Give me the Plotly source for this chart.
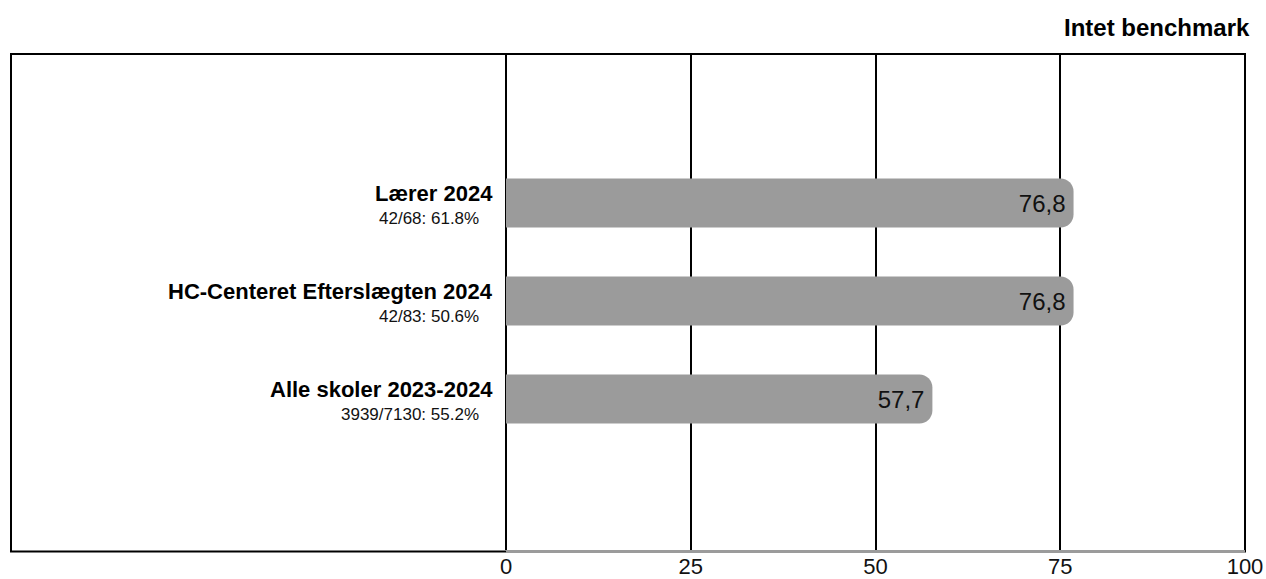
import plotly.graph_objects as go

# ---- data ----
categories = ["Lærer 2024", "HC-Centeret Efterslægten 2024", "Alle skoler 2023-2024"]
subtitles = ["42/68: 61.8%", "42/83: 50.6%", "3939/7130: 55.2%"]
values = [76.8, 76.8, 57.7]
tick_values = [0, 25, 50, 75, 100]
tick_labels = ["0", "25", "50", "75", "100"]
benchmark_text = "Intet benchmark"

FONT = "Liberation Sans, Arial, Helvetica, sans-serif"
BAR_COLOR = "#9b9b9b"

W, H = 1266, 579
L, R, T, B = 506, 21, 54, 29
plot_w = W - L - R
plot_h = H - T - B

positions = list(range(len(categories)))

fig = go.Figure()
fig.add_trace(go.Bar(
    x=values,
    y=positions,
    orientation="h",
    width=0.5,
    marker=dict(color=BAR_COLOR, line=dict(width=0), cornerradius=13),
    texttemplate="%{x:.1f}\u2009",
    textposition="inside",
    insidetextanchor="end",
    textfont=dict(family=FONT, size=24, color="#111111"),
    hoverinfo="skip",
    showlegend=False,
))

annotations = []
for pos, cat, sub in zip(positions, categories, subtitles):
    annotations.append(dict(
        xref="paper", yref="y",
        x=(495 - L) / plot_w, y=pos,
        xanchor="right", yanchor="middle",
        yshift=10,
        text="<b>" + cat + "</b>",
        showarrow=False,
        font=dict(family=FONT, size=22, color="#000000"),
    ))
    annotations.append(dict(
        xref="paper", yref="y",
        x=(481 - L) / plot_w, y=pos,
        xanchor="right", yanchor="middle",
        yshift=-15,
        text=sub,
        showarrow=False,
        font=dict(family=FONT, size=17, color="#111111"),
    ))

annotations.append(dict(
    xref="paper", yref="paper",
    x=(1252 - L) / plot_w, y=1 + (T - 28) / plot_h,
    xanchor="right", yanchor="middle",
    text="<b>" + benchmark_text + "</b>",
    showarrow=False,
    font=dict(family=FONT, size=24, color="#000000"),
))

# outer frame that also encloses the label area
shapes = [dict(
    type="rect", xref="paper", yref="paper",
    x0=(11 - L) / plot_w, x1=1, y0=-1.5 / plot_h, y1=1,
    line=dict(color="#000000", width=2),
    fillcolor="rgba(0,0,0,0)",
    layer="below",
)]

center_px = 301
top_units = 1 - (center_px - T) / 98
bottom_units = 1 + (T + plot_h - center_px) / 98

fig.update_layout(
    width=W, height=H,
    margin=dict(l=L, r=R, t=T, b=B, autoexpand=False),
    paper_bgcolor="white",
    plot_bgcolor="white",
    separators=",.",
    font=dict(family=FONT, color="#000000"),
    annotations=annotations,
    shapes=shapes,
    xaxis=dict(
        range=[0, 100],
        tickvals=tick_values,
        ticktext=tick_labels,
        tickfont=dict(family=FONT, size=22, color="#111111"),
        showgrid=True, gridcolor="#000000", gridwidth=2,
        zeroline=True, zerolinecolor="#000000", zerolinewidth=2,
        showline=True, linecolor="#9b9b9b", linewidth=3,
        ticks="",
        ticklabelstandoff=-5,
        automargin=False,
        fixedrange=True,
    ),
    yaxis=dict(
        range=[bottom_units, top_units],
        showticklabels=False, showgrid=False, zeroline=False, showline=False,
        ticks="",
        automargin=False,
        fixedrange=True,
    ),
)

fig.write_html(
    "out.html",
    config={"displayModeBar": False},
    post_script="document.body.style.margin='0';document.body.style.overflow='hidden';",
)
